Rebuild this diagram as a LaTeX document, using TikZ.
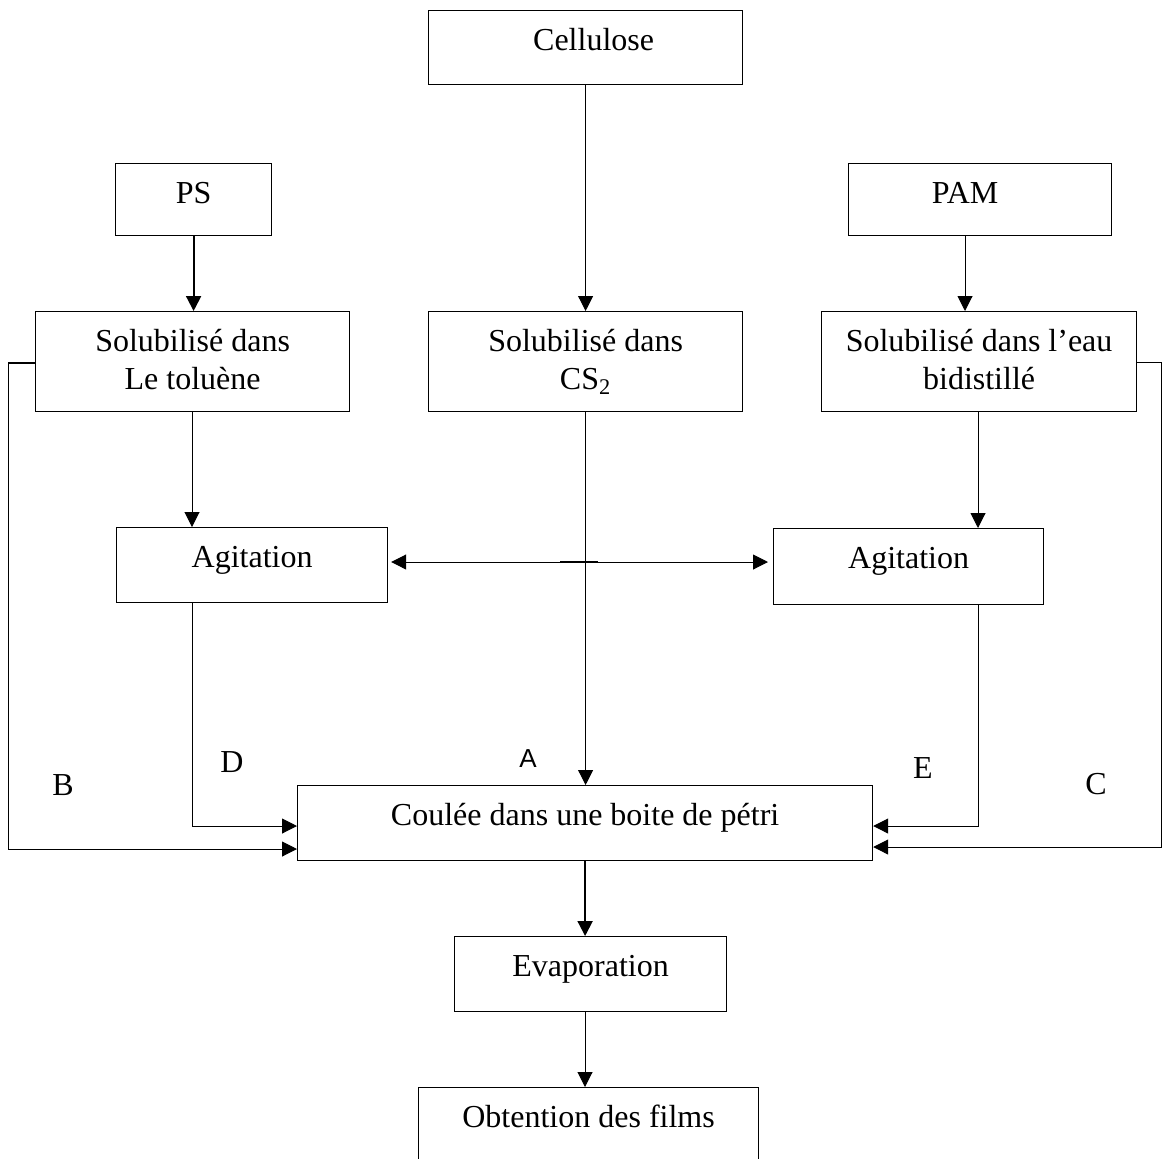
\documentclass[tikz,border=0pt]{standalone}
\usepackage{fontspec}
\setmainfont{Liberation Serif}
\setsansfont{Liberation Sans}
\usetikzlibrary{arrows.meta}
\begin{document}
\begin{tikzpicture}[x=0.5pt,y=-0.5pt,
  font=\fontsize{16}{19}\selectfont,
  box/.style={draw, line width=0.6pt, inner sep=0pt, anchor=north west, text height=20pt},
  thin/.style={line width=0.5pt},
  heavy/.style={line width=1pt},
  tip/.style={-{Triangle[length=7.5pt,width=7.5pt]}},
  tips/.style={{Triangle[length=7.5pt,width=7.5pt]}-{Triangle[length=7.5pt,width=7.5pt]}},
  lbl/.style={anchor=base, inner sep=0pt}]
\path[use as bounding box] (0,0) rectangle (1167,1158);
\clip (0,0) rectangle (1167,1158);

% boxes
\node[box, minimum width=157pt, text depth=17pt] (cell) at (428,10) {\hspace*{8pt}Cellulose};
\node[box, minimum width=78pt, text depth=16pt] (ps) at (115,163) {PS};
\node[box, minimum width=131.5pt, text depth=16pt] (pam) at (848,163) {PAM\hspace*{15pt}};
\node[box, minimum width=157pt, text depth=30pt] (sol1) at (35,311)
  {\begin{tabular}[t]{@{}c@{}}Solubilisé dans\\Le toluène\end{tabular}};
\node[box, minimum width=157pt, text depth=30pt] (sol2) at (428,311)
  {\begin{tabular}[t]{@{}c@{}}Solubilisé dans\\CS\textsubscript{2}\end{tabular}};
\node[box, minimum width=157.5pt, text depth=30pt] (sol3) at (821,311)
  {\begin{tabular}[t]{@{}c@{}}Solubilisé dans l’eau\\bidistillé\end{tabular}};
\node[box, minimum width=135.5pt, text depth=17.5pt] (agit1) at (116,527) {Agitation};
\node[box, minimum width=135pt, text depth=18pt] (agit2) at (773,528) {Agitation};
\node[box, minimum width=287.5pt, text depth=17.5pt] (coulee) at (297,785) {Coulée dans une boite de pétri};
\node[box, minimum width=136pt, text depth=17.5pt] (evap) at (454,936) {Evaporation};
\node[box, minimum width=170pt, text depth=25pt] (obt) at (418,1087) {Obtention des films};

% reference columns and rows for the routed lines
\coordinate (x8) at (8,0);
\coordinate (x192) at (192,0);
\coordinate (x965) at (965,0);
\coordinate (x978) at (978,0);
\coordinate (x1161) at (1161,0);
\coordinate (x585) at (585,0);
\coordinate (yTL) at (0,363);
\coordinate (yTR) at (0,362);
\coordinate (yM) at (0,562);
\coordinate (yD) at (0,826);
\coordinate (yB) at (0,849);
\coordinate (yC) at (0,847);

% connectors
\draw[thin, tip] (cell.south) -- (cell.south |- sol2.north);
\draw[heavy, tip] (ps.south) -- (ps.south |- sol1.north);
\draw[thin, tip] (x965 |- pam.south) -- (x965 |- sol3.north);
\draw[thin, tip] (x192 |- sol1.south) -- (x192 |- agit1.north);
\draw[thin, tip] (x978 |- sol3.south) -- (x978 |- agit2.north);
\draw[thin, tip] (sol2.south) -- (sol2.south |- coulee.north);
\draw[thin, tips, shorten <=1.5pt, shorten >=2.5pt] (agit1.east |- yM) -- (agit2.west |- yM);
\draw[line width=0.8pt] (560,562) -- (598,562);
\draw[thin, tip] (x192 |- agit1.south) |- (coulee.west |- yD);
\draw[thin, tip] (x978 |- agit2.south) |- (coulee.east |- yD);
\draw[line width=0.9pt] (sol1.west |- yTL) -- (x8 |- yTL);
\draw[thin, tip] (x8 |- yTL) |- (coulee.west |- yB);
\draw[thin, tip] (sol3.east |- yTR) -- (x1161 |- yTR) |- (coulee.east |- yC);
\draw[heavy, tip] (coulee.south) -- (coulee.south |- evap.north);
\draw[thin, tip] (x585 |- evap.south) -- (x585 |- obt.north);

% path labels
\node[lbl] (lB) at (63,795) {B};
\node[lbl] (lD) at (232,772) {D};
\node[lbl, font=\fontsize{13}{15}\sffamily] (lA) at (528,767) {A};
\node[lbl] (lE) at (923,778) {E};
\node[lbl] (lC) at (1096,794) {C};
\end{tikzpicture}
\end{document}
